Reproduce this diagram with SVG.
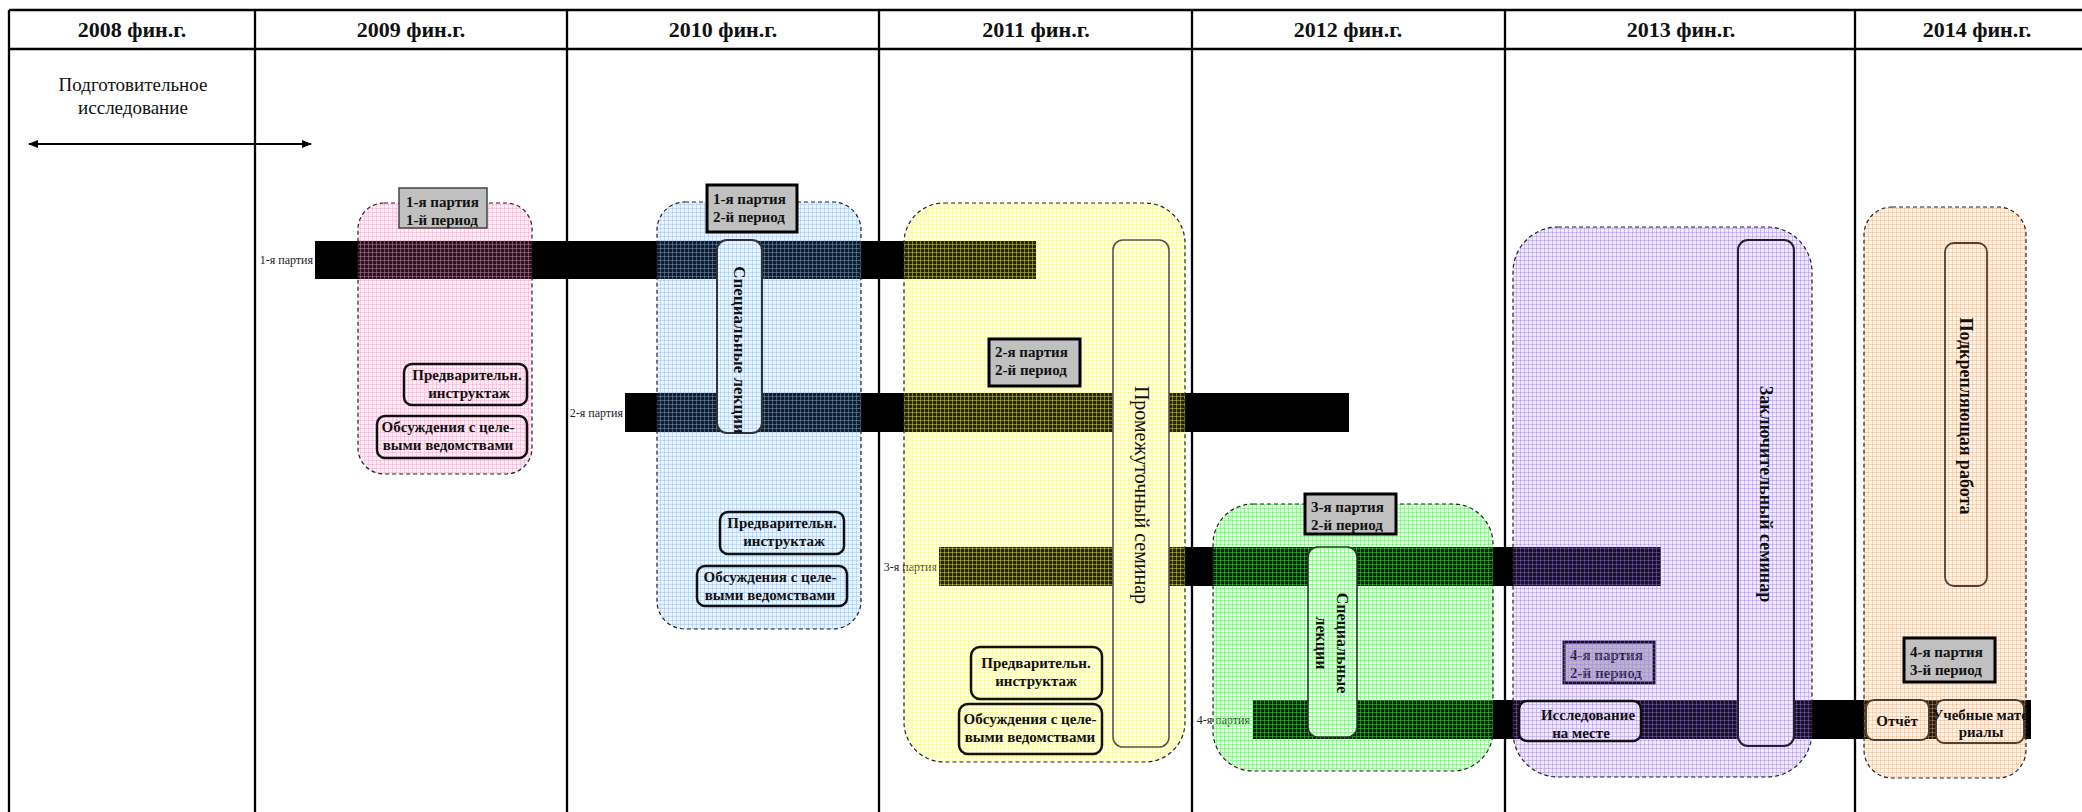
<svg xmlns="http://www.w3.org/2000/svg" width="2082" height="812" viewBox="0 0 2082 812">
<style>
text{font-family:"Liberation Serif","Times New Roman",serif;fill:#111}
.hd{font-size:22px;font-weight:bold;text-anchor:middle}
.grid{stroke:#000;stroke-width:2.3;fill:none}
.bar{fill:#000}
.bl{font-size:12px;text-anchor:end;fill:#222}
.grp{stroke:#222;stroke-width:1.2;stroke-dasharray:4 3}
.lab{fill:#c0c0c0;stroke:#000;stroke-width:3}
.lt{font-size:15px;font-weight:bold}
.ib{stroke:#111;stroke-width:2.5}
.it{font-size:15px;font-weight:bold;text-anchor:middle}
.vt{font-weight:bold;text-anchor:middle}
</style>
<defs>
<marker id="ah" viewBox="0 0 10 8" refX="9" refY="4" markerWidth="10" markerHeight="8" markerUnits="userSpaceOnUse" orient="auto-start-reverse"><path d="M0 0L10 4L0 8Z" fill="#000"/></marker>
<pattern id="pPink" width="4" height="4" patternUnits="userSpaceOnUse"><rect width="4" height="4" fill="#ff8fc8" fill-opacity="0.15"/><path d="M0 0.5H4M0.5 0V4" stroke="#ff8fc8" stroke-opacity="0.4"/></pattern>
<pattern id="pBlue" width="4" height="4" patternUnits="userSpaceOnUse"><rect width="4" height="4" fill="#7ab8ff" fill-opacity="0.15"/><path d="M0 0.5H4M0.5 0V4" stroke="#7ab8ff" stroke-opacity="0.4"/></pattern>
<pattern id="pYel" width="4" height="4" patternUnits="userSpaceOnUse"><rect width="4" height="4" fill="#ffff40" fill-opacity="0.15"/><path d="M0 0.5H4M0.5 0V4" stroke="#ffff40" stroke-opacity="0.4"/></pattern>
<pattern id="pGrn" width="4" height="4" patternUnits="userSpaceOnUse"><rect width="4" height="4" fill="#33ff33" fill-opacity="0.15"/><path d="M0 0.5H4M0.5 0V4" stroke="#33ff33" stroke-opacity="0.45"/></pattern>
<pattern id="pLav" width="4" height="4" patternUnits="userSpaceOnUse"><rect width="4" height="4" fill="#a070ff" fill-opacity="0.15"/><path d="M0 0.5H4M0.5 0V4" stroke="#a070ff" stroke-opacity="0.4"/></pattern>
<pattern id="pOra" width="4" height="4" patternUnits="userSpaceOnUse"><rect width="4" height="4" fill="#ffa860" fill-opacity="0.15"/><path d="M0 0.5H4M0.5 0V4" stroke="#ffa860" stroke-opacity="0.4"/></pattern>
<pattern id="wPink" width="4" height="4" patternUnits="userSpaceOnUse"><rect width="4" height="4" fill="#fff"/><rect width="4" height="4" fill="#ff8fc8" fill-opacity="0.15"/><path d="M0 0.5H4M0.5 0V4" stroke="#ff8fc8" stroke-opacity="0.4"/></pattern>
<pattern id="wBlue" width="4" height="4" patternUnits="userSpaceOnUse"><rect width="4" height="4" fill="#fff"/><rect width="4" height="4" fill="#7ab8ff" fill-opacity="0.15"/><path d="M0 0.5H4M0.5 0V4" stroke="#7ab8ff" stroke-opacity="0.4"/></pattern>
<pattern id="wYel" width="4" height="4" patternUnits="userSpaceOnUse"><rect width="4" height="4" fill="#fff"/><rect width="4" height="4" fill="#ffff40" fill-opacity="0.15"/><path d="M0 0.5H4M0.5 0V4" stroke="#ffff40" stroke-opacity="0.4"/></pattern>
<pattern id="wGrn" width="4" height="4" patternUnits="userSpaceOnUse"><rect width="4" height="4" fill="#fff"/><rect width="4" height="4" fill="#33ff33" fill-opacity="0.15"/><path d="M0 0.5H4M0.5 0V4" stroke="#33ff33" stroke-opacity="0.45"/></pattern>
<pattern id="wLav" width="4" height="4" patternUnits="userSpaceOnUse"><rect width="4" height="4" fill="#fff"/><rect width="4" height="4" fill="#a070ff" fill-opacity="0.15"/><path d="M0 0.5H4M0.5 0V4" stroke="#a070ff" stroke-opacity="0.4"/></pattern>
<pattern id="wOra" width="4" height="4" patternUnits="userSpaceOnUse"><rect width="4" height="4" fill="#fff"/><rect width="4" height="4" fill="#ffa860" fill-opacity="0.15"/><path d="M0 0.5H4M0.5 0V4" stroke="#ffa860" stroke-opacity="0.4"/></pattern>
</defs>
<rect width="2082" height="812" fill="#fff"/>

<g id="table">
<path class="grid" d="M9 10H2082M9 49H2082M9 10V812M255 10V812M567 10V812M879 10V812M1192 10V812M1505 10V812M1855 10V812"/>
<text class="hd" x="132" y="37">2008 фин.г.</text>
<text class="hd" x="411" y="37">2009 фин.г.</text>
<text class="hd" x="723" y="37">2010 фин.г.</text>
<text class="hd" x="1036" y="37">2011 фин.г.</text>
<text class="hd" x="1348" y="37">2012 фин.г.</text>
<text class="hd" x="1681" y="37">2013 фин.г.</text>
<text class="hd" x="1977" y="37">2014 фин.г.</text>
</g>

<g id="prep">
<text x="133" y="91" font-size="19" text-anchor="middle" fill="#222">Подготовительное</text>
<text x="133" y="114" font-size="19" text-anchor="middle" fill="#222">исследование</text>
</g>

<g id="connectors">
<line x1="29" y1="144" x2="311" y2="144" stroke="#000" stroke-width="2" marker-start="url(#ah)" marker-end="url(#ah)"/>
</g>

<g id="bars">
<g id="bar1"><text class="bl" x="313" y="264">1-я партия</text><rect class="bar" x="315" y="241" width="721" height="38"/></g>
<g id="bar2"><text class="bl" x="623" y="417">2-я партия</text><rect class="bar" x="625" y="393" width="724" height="39"/></g>
<g id="bar3"><text class="bl" x="937" y="571">3-я партия</text><rect class="bar" x="939" y="547" width="722" height="39"/></g>
<g id="bar4"><text class="bl" x="1250" y="724">4-я партия</text><rect class="bar" x="1253" y="700" width="778" height="39"/></g>
</g>

<g id="label-4-2">
<rect class="lab" x="1564" y="642" width="90" height="41"/>
<text class="lt" x="1570" y="660">4-я партия</text>
<text class="lt" x="1570" y="678">2-й период</text>
</g>

<g id="group-2009">
<rect class="grp" x="358" y="203" width="174" height="271" rx="26" fill="url(#pPink)"/>
<g id="pre-2009"><rect class="ib" x="404" y="364" width="123" height="41" rx="8" fill="url(#wPink)"/><text class="it" x="467" y="380">Предварительн.</text><text class="it" x="469" y="398">инструктаж</text></g>
<g id="disc-2009"><rect class="ib" x="377" y="416" width="150" height="42" rx="8" fill="url(#wPink)"/><text class="it" x="448" y="432">Обсуждения с целе-</text><text class="it" x="448" y="450">выми ведомствами</text></g>
<g id="label-1-1"><rect x="399" y="188" width="88" height="40" fill="#c0c0c0" stroke="#444" stroke-width="1.5"/><text class="lt" x="406" y="207">1-я партия</text><text class="lt" x="406" y="225">1-й период</text></g>
</g>

<g id="group-2010">
<rect class="grp" x="657" y="202" width="204" height="427" rx="28" fill="url(#pBlue)"/>
<g id="lect-2010"><rect x="717" y="240" width="45" height="193" rx="10" fill="url(#wBlue)" stroke="#333" stroke-width="2"/><text class="vt" font-size="17" transform="translate(739.5,350) rotate(90)" y="6">Специальные лекции</text></g>
<g id="pre-2010"><rect class="ib" x="720" y="512" width="124" height="42" rx="8" fill="url(#wBlue)"/><text class="it" x="782" y="528">Предварительн.</text><text class="it" x="784" y="546">инструктаж</text></g>
<g id="disc-2010"><rect class="ib" x="697" y="566" width="150" height="40" rx="8" fill="url(#wBlue)"/><text class="it" x="770" y="582">Обсуждения с целе-</text><text class="it" x="770" y="600">выми ведомствами</text></g>
<g id="label-1-2"><rect class="lab" x="707" y="185" width="90" height="47"/><text class="lt" x="713" y="204">1-я партия</text><text class="lt" x="713" y="222">2-й период</text></g>
</g>

<g id="group-2011">
<rect class="grp" x="904" y="203" width="281" height="559" rx="40" fill="url(#pYel)"/>
<g id="mid-seminar"><rect x="1113" y="240" width="56" height="507" rx="10" fill="url(#wYel)" stroke="#555" stroke-width="1.6"/><text font-size="20" text-anchor="middle" fill="#333" transform="translate(1141,495) rotate(90)" y="6">Промежуточный семинар</text></g>
<g id="pre-2011"><rect class="ib" x="971" y="647" width="131" height="52" rx="9" fill="url(#wYel)"/><text class="it" x="1036" y="668">Предварительн.</text><text class="it" x="1036" y="686">инструктаж</text></g>
<g id="disc-2011"><rect class="ib" x="959" y="704" width="143" height="50" rx="9" fill="url(#wYel)"/><text class="it" x="1030" y="724">Обсуждения с целе-</text><text class="it" x="1030" y="742">выми ведомствами</text></g>
<g id="label-2-2"><rect class="lab" x="989" y="339" width="91" height="47"/><text class="lt" x="995" y="357">2-я партия</text><text class="lt" x="995" y="375">2-й период</text></g>
</g>

<g id="group-2012">
<rect class="grp" x="1213" y="504" width="280" height="267" rx="40" fill="url(#pGrn)"/>
<g id="lect-2012"><rect x="1308" y="547" width="49" height="190" rx="10" fill="url(#wGrn)" stroke="#2a3a2a" stroke-width="1.6"/><g transform="translate(1332,643) rotate(90)"><text class="vt" font-size="16" y="-5">Специальные</text><text class="vt" font-size="16" y="16">лекции</text></g></g>
<g id="label-3-2"><rect class="lab" x="1305" y="494" width="91" height="40"/><text class="lt" x="1311" y="512">3-я партия</text><text class="lt" x="1311" y="530">2-й период</text></g>
</g>

<g id="group-2013">
<rect class="grp" x="1513" y="227" width="299" height="550" rx="45" fill="url(#pLav)"/>
<g id="final-seminar"><rect x="1738" y="240" width="56" height="506" rx="10" fill="url(#wLav)" stroke="#222" stroke-width="2"/><text class="vt" font-size="18" fill="#222" transform="translate(1766,494) rotate(90)" y="6">Заключительный семинар</text></g>
<g id="field"><rect class="ib" x="1519" y="701" width="122" height="40" rx="8" fill="url(#wLav)" stroke-width="2"/><text class="it" x="1588" y="720" fill="#333">Исследование</text><text class="it" x="1581" y="738" fill="#333">на месте</text></g>
</g>

<g id="group-2014">
<rect class="grp" x="1864" y="207" width="162" height="571" rx="28" fill="url(#pOra)"/>
<g id="followup"><rect x="1945" y="243" width="42" height="343" rx="9" fill="url(#wOra)" stroke="#4a4238" stroke-width="1.8"/><text class="vt" font-size="18" fill="#3a342e" transform="translate(1966,416) rotate(90)" y="6">Подкрепляющая работа</text></g>
<g id="report"><rect x="1866" y="700" width="63" height="40" rx="8" fill="url(#wOra)" stroke="#4a4035" stroke-width="2"/><text class="it" x="1897" y="726" fill="#7a6e62">Отчёт</text></g>
<g id="materials"><rect x="1936" y="700" width="88" height="43" rx="8" fill="url(#wOra)" stroke="#4a4035" stroke-width="2"/><text class="it" x="1980" y="720" font-size="14">Учебные мате</text><text class="it" x="1981" y="737" font-size="14">риалы</text></g>
<g id="label-4-3"><rect class="lab" x="1904" y="638" width="91" height="44"/><text class="lt" x="1910" y="657">4-я партия</text><text class="lt" x="1910" y="675">3-й период</text></g>
</g>
</svg>
